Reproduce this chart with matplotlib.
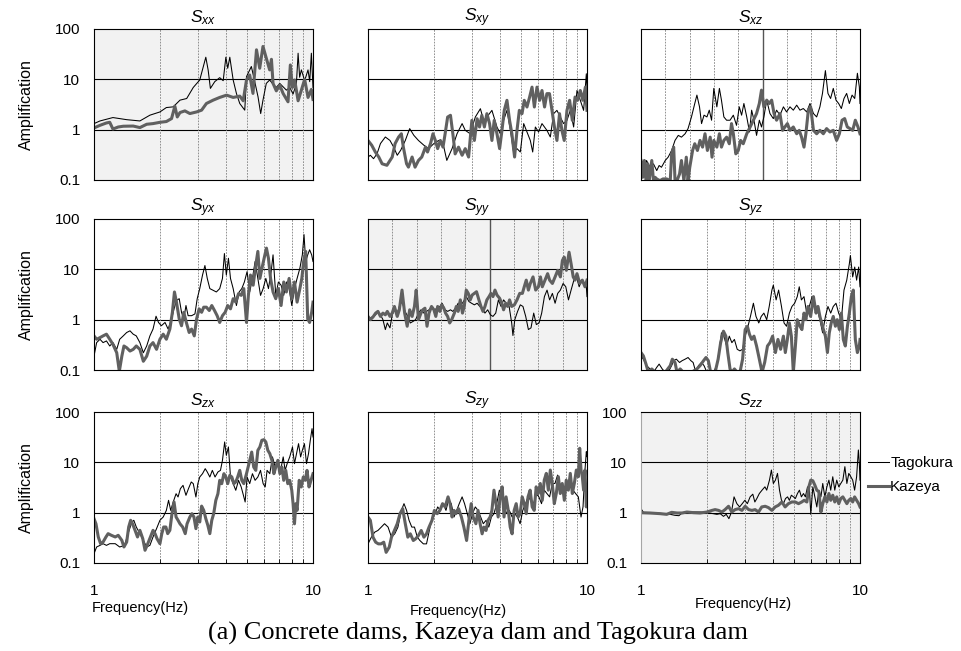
import matplotlib.pyplot as plt
from matplotlib.ticker import NullLocator, FixedLocator, NullFormatter

plt.rcParams['font.family'] = ['Liberation Sans', 'DejaVu Sans']
plt.rcParams['mathtext.fontset'] = 'custom'
plt.rcParams['mathtext.it'] = 'Liberation Sans:italic'
plt.rcParams['mathtext.rm'] = 'Liberation Sans'

# ---------------------------------------------------------------
# data : (frequency Hz, amplification)
# ---------------------------------------------------------------
tago_xx = [(1.0, 1.32), (1.065, 1.49), (1.22, 1.74), (1.41, 1.58), (1.62, 1.49), (1.80, 1.94),
           (2.0, 2.25), (2.14, 2.75), (2.30, 2.84), (2.47, 3.86), (2.65, 4.16), (2.84, 6.9),
           (3.04, 9.7), (3.24, 27.5), (3.32, 15.4), (3.40, 6.6), (3.56, 9.0), (3.75, 10.8),
           (3.89, 9.4), (4.0, 27.5), (4.08, 16.6), (4.17, 27.5), (4.32, 9.7), (4.47, 5.25),
           (4.63, 3.31), (4.88, 2.44), (4.97, 11.3), (5.23, 18.0), (5.42, 9.0), (5.61, 4.5),
           (5.77, 2.09), (5.91, 3.86), (6.12, 8.3), (6.34, 9.7), (6.57, 8.0), (6.80, 6.9),
           (7.05, 8.3), (7.56, 6.1), (7.83, 6.9), (8.11, 5.1), (8.40, 8.3), (8.55, 33.0),
           (8.69, 11.0), (8.85, 15.4), (9.16, 9.4), (9.49, 15.4), (9.66, 9.0), (9.83, 33.0),
           (10.0, 6.9)]
kaze_xx = [(1.0, 1.08), (1.065, 1.22), (1.14, 1.36), (1.18, 1.40), (1.22, 1.03), (1.29, 1.13),
           (1.36, 1.17), (1.51, 1.18), (1.62, 1.10), (1.74, 1.28), (1.86, 1.32), (2.0, 1.40),
           (2.14, 1.45), (2.26, 1.66), (2.34, 2.93), (2.40, 1.79), (2.47, 2.19), (2.60, 2.36),
           (2.74, 2.09), (2.94, 2.25), (3.10, 2.44), (3.26, 3.31), (3.50, 3.86), (3.75, 4.37),
           (4.03, 4.85), (4.32, 4.37), (4.63, 4.64), (4.80, 3.75), (4.97, 9.7), (5.14, 12.2),
           (5.32, 5.25), (5.52, 38.6), (5.71, 16.6), (5.91, 45.0), (6.12, 26.3), (6.34, 15.4),
           (6.46, 25.0), (6.57, 8.3), (6.80, 5.9), (7.05, 7.7), (7.30, 5.25), (7.69, 3.58),
           (7.88, 19.3), (8.05, 6.9), (8.25, 9.7), (8.55, 3.75), (8.85, 6.1), (9.16, 10.0),
           (9.49, 4.37), (9.83, 6.3), (10.0, 3.98)]

tago_xy = [(1.0, 0.286), (1.025, 0.31), (1.06, 0.265), (1.10, 0.333), (1.14, 0.53), (1.20, 0.715),
           (1.26, 0.61), (1.31, 0.45), (1.36, 0.31), (1.41, 0.39), (1.48, 0.61), (1.55, 1.05),
           (1.62, 0.77), (1.70, 0.61), (1.80, 0.49), (1.89, 0.42), (2.0, 0.53), (2.10, 0.61),
           (2.22, 0.45), (2.29, 0.245), (2.42, 0.42), (2.55, 0.83), (2.69, 1.32), (2.78, 0.97),
           (2.93, 0.83), (3.09, 1.78), (3.26, 2.61), (3.37, 1.53), (3.49, 1.78), (3.68, 2.42),
           (3.88, 1.13), (4.02, 0.83), (4.16, 1.53), (4.31, 2.42), (4.47, 0.97), (4.62, 0.36),
           (4.79, 0.42), (4.96, 0.36), (5.14, 1.32), (5.32, 0.90), (5.51, 0.61), (5.65, 0.36),
           (5.81, 1.13), (6.01, 0.90), (6.23, 1.32), (6.56, 0.97), (6.80, 0.715), (7.04, 2.08),
           (7.29, 2.42), (7.55, 1.78), (7.82, 1.32), (8.10, 1.53), (8.39, 2.42), (8.69, 1.13),
           (9.00, 6.0), (9.32, 3.83), (9.65, 2.42), (9.93, 12.9), (10.0, 7.0)]
kaze_xy = [(1.0, 0.61), (1.04, 0.49), (1.08, 0.36), (1.12, 0.286), (1.16, 0.21), (1.22, 0.196),
           (1.29, 0.286), (1.33, 0.53), (1.38, 0.715), (1.42, 0.83), (1.45, 0.45), (1.50, 0.21),
           (1.53, 0.18), (1.59, 0.286), (1.64, 0.18), (1.70, 0.245), (1.76, 0.286), (1.83, 0.45),
           (1.87, 0.36), (1.93, 0.53), (1.98, 0.83), (2.03, 0.61), (2.08, 0.42), (2.14, 0.61),
           (2.20, 0.45), (2.25, 0.83), (2.31, 1.78), (2.38, 1.93), (2.44, 0.83), (2.50, 0.33),
           (2.59, 0.45), (2.69, 0.31), (2.78, 0.42), (2.88, 0.286), (2.98, 1.53), (3.06, 0.61),
           (3.15, 1.65), (3.23, 1.13), (3.31, 1.93), (3.40, 1.13), (3.49, 2.08), (3.59, 1.32),
           (3.68, 0.61), (3.77, 1.53), (3.88, 0.83), (3.99, 0.42), (4.09, 0.97), (4.19, 2.42),
           (4.31, 3.83), (4.43, 1.53), (4.54, 0.83), (4.67, 0.286), (4.79, 0.97), (4.91, 2.42),
           (5.05, 2.08), (5.17, 3.83), (5.32, 2.82), (5.47, 4.45), (5.61, 7.0), (5.75, 2.82),
           (5.91, 7.0), (6.08, 3.83), (6.23, 6.0), (6.40, 2.82), (6.56, 5.2), (6.74, 5.2),
           (6.92, 2.42), (7.10, 1.13), (7.29, 0.61), (7.49, 2.08), (7.68, 0.97), (7.87, 0.61),
           (8.10, 2.42), (8.33, 3.83), (8.57, 1.53), (8.82, 4.45), (9.06, 3.83), (9.32, 6.0),
           (9.57, 3.83), (9.83, 7.0), (10.0, 2.42)]

tago_xz = [(1.0, 0.209), (1.025, 0.132), (1.06, 0.244), (1.10, 0.179), (1.14, 0.209), (1.18, 0.154),
           (1.21, 0.194), (1.24, 0.179), (1.29, 0.244), (1.33, 0.284), (1.38, 0.386), (1.43, 0.612),
           (1.48, 0.77), (1.53, 0.71), (1.59, 0.83), (1.64, 1.05), (1.70, 1.79), (1.76, 3.31),
           (1.80, 4.86), (1.85, 2.84), (1.89, 1.32), (1.94, 1.94), (2.0, 1.79), (2.05, 2.44),
           (2.10, 1.54), (2.15, 6.6), (2.22, 2.84), (2.28, 6.6), (2.33, 3.86), (2.39, 1.79),
           (2.46, 1.54), (2.55, 1.54), (2.64, 1.94), (2.73, 1.22), (2.81, 2.84), (2.88, 1.94),
           (2.95, 3.31), (3.04, 1.79), (3.13, 0.90), (3.20, 2.44), (3.28, 1.54), (3.37, 0.77),
           (3.47, 1.54), (3.55, 1.13), (3.64, 1.79), (3.75, 3.86), (3.88, 2.09), (4.02, 1.66),
           (4.16, 2.44), (4.31, 1.94), (4.47, 2.84), (4.62, 2.25), (4.79, 2.84), (4.96, 2.44),
           (5.14, 3.07), (5.32, 2.44), (5.51, 2.63), (5.71, 2.25), (5.91, 3.31), (6.13, 2.09),
           (6.34, 1.79), (6.56, 2.84), (6.74, 5.25), (6.95, 14.9), (7.14, 5.25), (7.34, 4.16),
           (7.55, 6.6), (7.77, 3.86), (7.99, 3.31), (8.22, 2.63), (8.45, 4.16), (8.69, 5.25),
           (8.94, 3.31), (9.20, 4.86), (9.46, 4.16), (9.73, 13.2), (9.93, 7.1), (10.0, 3.31)]
kaze_xz = [(1.0, 0.244), (1.018, 0.113), (1.036, 0.244), (1.054, 0.097), (1.073, 0.209), (1.09, 0.097),
           (1.12, 0.244), (1.14, 0.097), (1.16, 0.113), (1.18, 0.105), (1.22, 0.097), (1.26, 0.105),
           (1.31, 0.105), (1.36, 0.097), (1.38, 0.331), (1.41, 0.45), (1.43, 0.097), (1.46, 0.097),
           (1.50, 0.132), (1.53, 0.244), (1.57, 0.097), (1.61, 0.284), (1.64, 0.097), (1.67, 0.179),
           (1.72, 0.386), (1.76, 0.525), (1.81, 0.386), (1.86, 0.612), (1.91, 0.45), (1.96, 0.83),
           (2.01, 0.386), (2.07, 0.71), (2.11, 0.284), (2.15, 0.612), (2.22, 0.45), (2.28, 0.83),
           (2.33, 0.45), (2.39, 0.612), (2.46, 0.71), (2.53, 0.525), (2.59, 1.32), (2.64, 0.83),
           (2.71, 0.331), (2.78, 0.386), (2.85, 0.612), (2.93, 0.525), (3.04, 0.83), (3.15, 1.13),
           (3.26, 1.54), (3.37, 2.09), (3.47, 3.31), (3.55, 6.1), (3.64, 2.84), (3.75, 3.86),
           (3.85, 3.31), (3.95, 3.86), (4.05, 2.09), (4.16, 1.54), (4.31, 2.09), (4.43, 0.97),
           (4.54, 1.13), (4.66, 1.32), (4.79, 0.97), (4.96, 1.13), (5.14, 0.83), (5.28, 0.97),
           (5.41, 0.71), (5.55, 0.45), (5.66, 0.83), (5.81, 2.44), (5.95, 2.84), (6.13, 0.97),
           (6.34, 0.83), (6.56, 0.97), (6.80, 0.83), (7.04, 1.05), (7.29, 0.90), (7.55, 0.97),
           (7.82, 0.612), (8.05, 0.83), (8.28, 1.54), (8.51, 1.66), (8.75, 1.13), (9.00, 1.05),
           (9.26, 0.97), (9.52, 1.54), (9.79, 1.13), (10.0, 0.83)]

tago_yx = [(1.0, 0.188), (1.028, 0.35), (1.065, 0.408), (1.10, 0.35), (1.14, 0.378), (1.18, 0.30),
           (1.22, 0.35), (1.27, 0.257), (1.31, 0.408), (1.36, 0.476), (1.41, 0.556), (1.46, 0.60),
           (1.51, 0.515), (1.56, 0.476), (1.62, 0.35), (1.68, 0.22), (1.74, 0.30), (1.80, 0.476),
           (1.86, 0.65), (1.92, 1.17), (1.97, 0.88), (2.03, 0.757), (2.11, 0.88), (2.18, 0.65),
           (2.26, 1.03), (2.32, 1.64), (2.38, 2.41), (2.45, 2.61), (2.51, 1.40), (2.57, 1.03),
           (2.63, 1.91), (2.69, 1.20), (2.79, 1.20), (2.89, 1.30), (2.96, 2.61), (3.04, 4.14),
           (3.13, 7.7), (3.21, 11.9), (3.29, 6.6), (3.38, 4.14), (3.50, 3.83), (3.62, 3.55),
           (3.75, 4.14), (3.86, 6.6), (3.94, 20.6), (4.02, 7.7), (4.11, 16.6), (4.20, 6.6),
           (4.32, 4.14), (4.47, 1.91), (4.60, 3.55), (4.73, 4.14), (4.86, 5.6), (5.00, 9.0),
           (5.14, 3.55), (5.29, 6.6), (5.44, 14.3), (5.60, 6.6), (5.76, 3.04), (5.92, 4.14),
           (6.09, 6.6), (6.26, 4.14), (6.44, 9.0), (6.57, 19.4), (6.76, 3.04), (6.95, 5.6),
           (7.15, 4.84), (7.35, 3.04), (7.56, 5.6), (7.78, 4.14), (8.00, 1.91), (8.23, 4.14),
           (8.46, 6.6), (8.71, 10.5), (8.94, 19.4), (9.10, 49.0), (9.26, 14.3), (9.46, 19.4),
           (9.65, 24.5), (9.86, 19.4), (10.0, 14.3)]
kaze_yx = [(1.0, 0.476), (1.028, 0.408), (1.065, 0.44), (1.10, 0.476), (1.14, 0.515), (1.18, 0.408),
           (1.22, 0.324), (1.27, 0.22), (1.305, 0.094), (1.34, 0.188), (1.37, 0.30), (1.41, 0.277),
           (1.46, 0.238), (1.51, 0.257), (1.56, 0.30), (1.62, 0.257), (1.68, 0.149), (1.74, 0.188),
           (1.80, 0.30), (1.86, 0.35), (1.93, 0.257), (2.0, 0.408), (2.07, 0.515), (2.14, 0.408),
           (2.22, 0.65), (2.28, 1.40), (2.33, 3.55), (2.38, 2.23), (2.45, 1.03), (2.51, 0.757),
           (2.57, 1.40), (2.64, 0.88), (2.72, 0.556), (2.79, 0.65), (2.87, 0.476), (2.94, 1.03),
           (3.02, 1.64), (3.10, 1.40), (3.17, 1.77), (3.26, 1.77), (3.36, 1.52), (3.45, 1.91),
           (3.55, 1.52), (3.65, 1.20), (3.75, 0.88), (3.86, 1.20), (3.97, 1.40), (4.08, 1.91),
           (4.20, 1.64), (4.32, 2.61), (4.44, 2.23), (4.57, 3.29), (4.70, 3.04), (4.83, 4.14),
           (4.97, 0.88), (5.07, 3.04), (5.18, 7.7), (5.33, 4.84), (5.48, 12.2), (5.60, 22.7),
           (5.72, 6.6), (5.89, 12.2), (6.03, 19.4), (6.13, 26.4), (6.26, 16.6), (6.40, 6.6),
           (6.57, 3.55), (6.76, 2.61), (6.95, 4.14), (7.15, 1.91), (7.35, 5.6), (7.56, 3.55),
           (7.78, 6.6), (8.00, 2.61), (8.23, 5.6), (8.46, 2.23), (8.71, 4.14), (8.89, 6.6),
           (9.06, 14.3), (9.26, 22.7), (9.46, 1.03), (9.65, 0.88), (9.86, 1.40), (10.0, 2.23)]

tago_yy = [(1.0, 1.0), (1.025, 1.08), (1.054, 1.16), (1.084, 1.25), (1.11, 1.46), (1.14, 1.25),
           (1.17, 1.0), (1.20, 0.636), (1.225, 0.86), (1.26, 0.687), (1.29, 1.25), (1.32, 1.57),
           (1.36, 1.35), (1.39, 1.83), (1.43, 2.29), (1.475, 1.46), (1.52, 1.16), (1.56, 0.86),
           (1.61, 0.93), (1.65, 1.0), (1.70, 1.35), (1.745, 1.57), (1.80, 1.35), (1.85, 1.46),
           (1.90, 1.57), (1.95, 1.83), (2.01, 1.57), (2.07, 1.69), (2.13, 1.83), (2.18, 2.12),
           (2.25, 1.57), (2.31, 1.46), (2.38, 1.57), (2.44, 1.46), (2.51, 1.69), (2.58, 2.12),
           (2.66, 1.97), (2.73, 2.29), (2.81, 2.87), (2.89, 2.29), (2.97, 2.12), (3.06, 1.97),
           (3.15, 2.12), (3.24, 1.83), (3.33, 1.69), (3.42, 1.35), (3.52, 1.57), (3.62, 1.25),
           (3.72, 1.16), (3.83, 1.35), (3.94, 2.47), (4.05, 1.83), (4.16, 2.47), (4.28, 2.12),
           (4.41, 1.83), (4.53, 0.86), (4.59, 0.485), (4.68, 1.0), (4.82, 1.46), (4.96, 1.97),
           (5.10, 1.83), (5.25, 1.16), (5.40, 0.636), (5.55, 0.687), (5.71, 1.35), (5.87, 0.80),
           (6.04, 0.86), (6.21, 1.35), (6.39, 2.87), (6.57, 3.87), (6.75, 2.47), (6.95, 3.33),
           (7.15, 2.12), (7.35, 3.33), (7.56, 3.87), (7.78, 5.24), (8.00, 4.5), (8.23, 2.47),
           (8.46, 3.87), (8.71, 6.1), (8.95, 7.07), (9.21, 4.5), (9.47, 6.1), (9.72, 5.24),
           (9.93, 4.5), (10.0, 2.87)]
kaze_yy = [(1.0, 1.16), (1.025, 1.0), (1.054, 1.13), (1.084, 1.35), (1.11, 1.46), (1.14, 1.16),
           (1.17, 1.35), (1.20, 1.25), (1.225, 1.46), (1.26, 1.16), (1.29, 1.35), (1.32, 1.83),
           (1.36, 1.16), (1.39, 1.57), (1.43, 3.87), (1.47, 1.35), (1.51, 0.74), (1.55, 1.57),
           (1.59, 1.16), (1.63, 1.83), (1.66, 3.87), (1.70, 1.0), (1.745, 1.35), (1.78, 1.57),
           (1.82, 1.69), (1.86, 0.74), (1.90, 1.35), (1.95, 1.83), (2.0, 1.57), (2.04, 1.16),
           (2.08, 1.83), (2.13, 1.46), (2.17, 1.97), (2.22, 1.69), (2.26, 1.35), (2.31, 1.16),
           (2.36, 0.86), (2.41, 1.0), (2.48, 1.35), (2.53, 1.83), (2.58, 1.46), (2.64, 2.47),
           (2.70, 1.35), (2.75, 1.83), (2.81, 3.87), (2.87, 3.33), (2.93, 2.47), (2.99, 3.09),
           (3.06, 3.33), (3.13, 3.59), (3.21, 2.47), (3.28, 1.83), (3.35, 1.46), (3.42, 1.83),
           (3.49, 2.47), (3.57, 2.87), (3.64, 3.33), (3.72, 2.87), (3.80, 3.87), (3.88, 3.09),
           (3.99, 2.66), (4.08, 2.12), (4.16, 1.57), (4.25, 2.12), (4.34, 1.83), (4.43, 2.47),
           (4.53, 1.83), (4.66, 1.97), (4.79, 2.47), (4.93, 3.33), (5.07, 3.33), (5.17, 4.5),
           (5.28, 6.1), (5.40, 3.87), (5.51, 5.24), (5.67, 7.07), (5.83, 3.87), (6.0, 4.5),
           (6.13, 7.07), (6.25, 4.5), (6.43, 6.1), (6.61, 8.2), (6.75, 6.1), (6.95, 5.24),
           (7.15, 7.07), (7.35, 9.55), (7.56, 7.07), (7.72, 15.0), (7.87, 17.5), (8.05, 9.55),
           (8.28, 21.9), (8.46, 12.9), (8.65, 7.07), (8.82, 6.1), (9.0, 8.2), (9.26, 5.24),
           (9.52, 6.1), (9.79, 4.5), (10.0, 6.1)]

tago_yz = [(1.0, 0.191), (1.025, 0.164), (1.06, 0.122), (1.10, 0.105), (1.14, 0.09), (1.18, 0.113),
           (1.21, 0.131), (1.25, 0.105), (1.29, 0.09), (1.33, 0.09), (1.38, 0.122), (1.41, 0.153),
           (1.45, 0.164), (1.50, 0.141), (1.54, 0.153), (1.59, 0.164), (1.64, 0.177), (1.69, 0.153),
           (1.73, 0.141), (1.78, 0.09), (1.83, 0.122), (1.89, 0.141), (1.94, 0.122), (2.0, 0.09),
           (2.07, 0.09), (2.14, 0.09), (2.22, 0.122), (2.28, 0.258), (2.33, 0.548), (2.39, 0.471),
           (2.46, 0.30), (2.53, 0.471), (2.60, 0.349), (2.67, 0.405), (2.75, 0.258), (2.83, 0.24),
           (2.91, 0.258), (2.99, 0.471), (3.08, 0.74), (3.16, 1.16), (3.26, 2.12), (3.35, 1.16),
           (3.45, 0.86), (3.54, 1.16), (3.64, 1.35), (3.75, 1.0), (3.85, 1.83), (3.96, 3.87),
           (4.02, 4.85), (4.14, 2.47), (4.25, 3.87), (4.38, 1.83), (4.50, 0.86), (4.62, 0.74),
           (4.76, 1.35), (4.89, 1.83), (5.03, 2.12), (5.17, 2.87), (5.28, 4.5), (5.40, 2.47),
           (5.55, 2.87), (5.71, 1.35), (5.87, 1.83), (6.04, 2.87), (6.21, 2.12), (6.39, 1.57),
           (6.56, 1.0), (6.75, 0.548), (6.95, 1.16), (7.14, 1.83), (7.35, 1.35), (7.55, 1.83),
           (7.77, 2.12), (7.99, 1.35), (8.22, 1.0), (8.45, 3.87), (8.70, 6.1), (8.94, 12.9),
           (9.04, 18.8), (9.26, 7.07), (9.46, 11.1), (9.65, 6.1), (9.86, 11.1), (10.0, 4.5)]
kaze_yz = [(1.0, 0.222), (1.025, 0.191), (1.054, 0.131), (1.08, 0.09), (1.12, 0.105), (1.16, 0.09),
           (1.22, 0.09), (1.29, 0.09), (1.36, 0.122), (1.39, 0.164), (1.43, 0.141), (1.46, 0.09),
           (1.51, 0.105), (1.56, 0.09), (1.63, 0.09), (1.70, 0.09), (1.80, 0.105), (1.86, 0.122),
           (1.93, 0.153), (1.98, 0.177), (2.03, 0.153), (2.08, 0.09), (2.18, 0.09), (2.25, 0.164),
           (2.31, 0.349), (2.38, 0.59), (2.44, 0.471), (2.49, 0.222), (2.55, 0.105), (2.60, 0.09),
           (2.67, 0.105), (2.75, 0.09), (2.83, 0.09), (2.91, 0.164), (2.99, 0.636), (3.06, 0.74),
           (3.13, 0.508), (3.20, 0.405), (3.28, 0.471), (3.37, 0.30), (3.47, 0.164), (3.57, 0.09),
           (3.67, 0.141), (3.78, 0.30), (3.88, 0.349), (3.99, 0.471), (4.11, 0.222), (4.22, 0.405),
           (4.34, 0.258), (4.47, 0.471), (4.56, 0.222), (4.66, 0.405), (4.76, 0.86), (4.86, 0.471),
           (4.96, 0.09), (5.07, 0.30), (5.17, 1.0), (5.32, 0.74), (5.43, 0.636), (5.55, 1.35),
           (5.66, 1.0), (5.79, 1.83), (5.95, 1.16), (6.13, 2.87), (6.30, 1.35), (6.43, 1.83),
           (6.56, 1.16), (6.74, 0.74), (6.95, 0.471), (7.10, 0.222), (7.24, 0.548), (7.39, 0.86),
           (7.55, 1.16), (7.72, 0.74), (7.87, 1.0), (8.05, 0.636), (8.22, 1.35), (8.39, 0.405),
           (8.57, 0.30), (8.76, 0.74), (8.94, 1.35), (9.13, 2.87), (9.32, 3.87), (9.52, 0.405),
           (9.73, 0.222), (9.93, 0.30), (10.0, 0.405)]

tago_zx = [(1.0, 0.153), (1.028, 0.208), (1.065, 0.224), (1.10, 0.242), (1.14, 0.224), (1.18, 0.242),
           (1.25, 0.242), (1.31, 0.208), (1.38, 0.224), (1.43, 0.383), (1.49, 0.653), (1.52, 0.705),
           (1.56, 0.519), (1.62, 0.383), (1.68, 0.282), (1.74, 0.208), (1.80, 0.224), (1.86, 0.329),
           (1.93, 0.481), (2.0, 0.705), (2.07, 0.82), (2.14, 1.11), (2.19, 1.76), (2.24, 1.11),
           (2.30, 1.63), (2.37, 2.38), (2.42, 2.05), (2.48, 3.0), (2.55, 3.49), (2.63, 2.21),
           (2.70, 3.0), (2.78, 4.07), (2.84, 3.77), (2.92, 2.05), (2.98, 3.77), (3.04, 5.11),
           (3.13, 5.95), (3.22, 7.48), (3.29, 6.43), (3.38, 5.11), (3.47, 6.93), (3.57, 5.11),
           (3.68, 6.43), (3.78, 6.93), (3.86, 10.96), (3.95, 25.4), (4.02, 13.8), (4.11, 20.2),
           (4.20, 5.11), (4.32, 3.77), (4.44, 2.78), (4.57, 4.39), (4.70, 3.24), (4.79, 2.38),
           (4.90, 1.63), (5.00, 5.11), (5.14, 3.77), (5.29, 5.95), (5.44, 4.39), (5.60, 5.11),
           (5.76, 6.93), (5.92, 3.77), (6.05, 3.24), (6.17, 6.93), (6.35, 5.95), (6.53, 12.8),
           (6.72, 8.07), (6.91, 10.96), (7.11, 6.93), (7.31, 12.8), (7.46, 6.93), (7.62, 9.41),
           (7.83, 12.8), (8.06, 20.2), (8.23, 9.41), (8.41, 14.9), (8.59, 23.5), (8.78, 12.8),
           (8.94, 17.3), (9.14, 23.5), (9.34, 9.41), (9.54, 14.9), (9.72, 27.4), (9.90, 46.7),
           (10.0, 31.9)]
kaze_zx = [(1.0, 0.76), (1.021, 0.60), (1.046, 0.329), (1.072, 0.242), (1.10, 0.261), (1.134, 0.329),
           (1.16, 0.383), (1.20, 0.355), (1.25, 0.329), (1.29, 0.355), (1.34, 0.282), (1.37, 0.208),
           (1.41, 0.261), (1.44, 0.519), (1.47, 0.705), (1.50, 0.60), (1.54, 0.446), (1.58, 0.329),
           (1.62, 0.446), (1.67, 0.304), (1.71, 0.179), (1.76, 0.242), (1.81, 0.329), (1.86, 0.446),
           (1.90, 0.383), (1.94, 0.304), (2.0, 0.242), (2.04, 0.383), (2.08, 0.519), (2.13, 0.519),
           (2.17, 0.383), (2.22, 0.446), (2.27, 0.955), (2.32, 1.63), (2.37, 0.82), (2.42, 0.705),
           (2.47, 0.60), (2.54, 0.519), (2.61, 0.383), (2.66, 0.60), (2.74, 0.82), (2.80, 0.955),
           (2.86, 0.82), (2.92, 0.481), (2.98, 0.82), (3.04, 0.653), (3.10, 1.35), (3.17, 1.11),
           (3.24, 0.76), (3.31, 0.56), (3.38, 0.383), (3.45, 0.705), (3.52, 0.955), (3.60, 1.76),
           (3.68, 2.38), (3.75, 4.39), (3.83, 3.77), (3.92, 5.95), (4.0, 5.11), (4.08, 3.77),
           (4.17, 5.52), (4.26, 5.11), (4.35, 3.77), (4.44, 4.07), (4.53, 5.11), (4.63, 6.93),
           (4.73, 4.39), (4.83, 3.77), (4.97, 5.95), (5.10, 9.41), (5.25, 16.0), (5.36, 8.07),
           (5.48, 6.93), (5.60, 17.3), (5.72, 20.2), (5.84, 27.4), (5.97, 28.2), (6.09, 25.4),
           (6.22, 17.3), (6.35, 14.9), (6.49, 10.96), (6.63, 5.95), (6.76, 8.07), (6.91, 10.96),
           (7.06, 5.95), (7.21, 8.07), (7.35, 4.39), (7.51, 6.93), (7.67, 3.77), (7.83, 4.39),
           (8.0, 2.78), (8.11, 1.51), (8.23, 0.60), (8.35, 1.51), (8.46, 1.11), (8.65, 4.39),
           (8.84, 3.24), (9.03, 5.11), (9.22, 4.39), (9.39, 6.93), (9.59, 3.24), (9.79, 4.39),
           (10.0, 5.95)]

tago_zy = [(1.0, 0.24), (1.036, 0.326), (1.073, 0.41), (1.11, 0.443), (1.15, 0.517), (1.19, 0.603),
           (1.235, 0.517), (1.28, 0.326), (1.325, 0.38), (1.37, 0.517), (1.42, 1.11), (1.46, 1.51),
           (1.50, 1.11), (1.54, 0.703), (1.585, 0.517), (1.63, 0.517), (1.68, 0.326), (1.725, 0.28),
           (1.79, 0.24), (1.85, 0.24), (1.92, 0.517), (1.97, 0.82), (2.03, 0.955), (2.08, 1.30),
           (2.14, 1.11), (2.205, 1.51), (2.27, 1.11), (2.33, 1.76), (2.40, 1.51), (2.47, 0.82),
           (2.54, 1.11), (2.61, 1.51), (2.69, 2.06), (2.76, 1.51), (2.84, 0.955), (2.92, 0.603),
           (3.0, 0.955), (3.09, 1.30), (3.18, 1.11), (3.27, 0.82), (3.36, 0.603), (3.46, 0.703),
           (3.56, 0.517), (3.66, 0.82), (3.76, 0.955), (3.87, 1.51), (3.98, 2.80), (4.08, 2.06),
           (4.18, 1.30), (4.30, 0.955), (4.42, 1.11), (4.55, 0.82), (4.68, 0.955), (4.81, 0.82),
           (4.95, 0.603), (5.09, 1.11), (5.24, 1.51), (5.38, 2.06), (5.54, 1.76), (5.70, 1.51),
           (5.86, 2.40), (6.03, 2.06), (6.20, 1.51), (6.38, 2.80), (6.56, 2.40), (6.75, 2.06),
           (6.94, 3.80), (7.14, 3.80), (7.34, 5.58), (7.50, 3.26), (7.71, 2.40), (7.93, 2.80),
           (8.16, 2.80), (8.39, 3.26), (8.63, 2.80), (8.87, 2.40), (9.13, 2.06), (9.39, 0.82),
           (9.59, 1.30), (9.79, 7.03), (9.93, 16.3), (10.0, 13.0)]
kaze_zy = [(1.0, 0.82), (1.025, 0.703), (1.054, 0.326), (1.084, 0.259), (1.115, 0.24), (1.147, 0.24),
           (1.18, 0.259), (1.21, 0.163), (1.25, 0.206), (1.28, 0.326), (1.32, 0.443), (1.36, 0.603),
           (1.40, 0.955), (1.44, 1.20), (1.48, 0.603), (1.52, 0.326), (1.56, 0.38), (1.61, 0.28),
           (1.65, 0.302), (1.70, 0.352), (1.75, 0.443), (1.80, 0.326), (1.85, 0.38), (1.90, 0.517),
           (1.96, 0.703), (2.01, 1.11), (2.07, 0.955), (2.13, 1.11), (2.19, 1.51), (2.25, 1.30),
           (2.32, 2.06), (2.37, 1.51), (2.42, 0.82), (2.47, 1.11), (2.52, 0.955), (2.59, 1.20),
           (2.67, 0.82), (2.74, 0.517), (2.82, 0.28), (2.90, 0.82), (2.96, 1.51), (3.02, 0.82),
           (3.11, 0.603), (3.18, 1.11), (3.25, 0.603), (3.32, 0.38), (3.38, 0.517), (3.46, 0.443),
           (3.53, 0.703), (3.61, 0.82), (3.68, 1.11), (3.76, 2.80), (3.84, 1.51), (3.93, 0.82),
           (4.01, 2.06), (4.10, 3.26), (4.18, 0.82), (4.27, 2.06), (4.37, 1.11), (4.46, 0.517),
           (4.55, 0.38), (4.65, 1.11), (4.75, 1.51), (4.85, 0.82), (4.95, 0.955), (5.06, 2.06),
           (5.17, 1.51), (5.28, 0.955), (5.38, 2.06), (5.50, 2.80), (5.62, 1.30), (5.74, 1.11),
           (5.86, 3.26), (5.99, 2.40), (6.12, 3.80), (6.25, 1.76), (6.38, 4.43), (6.52, 6.03),
           (6.66, 2.80), (6.80, 7.03), (6.94, 3.80), (7.09, 1.51), (7.24, 2.40), (7.40, 5.17),
           (7.55, 2.40), (7.71, 3.80), (7.88, 1.76), (8.04, 4.43), (8.22, 2.80), (8.39, 6.03),
           (8.57, 2.40), (8.75, 3.80), (8.94, 7.03), (9.13, 5.17), (9.26, 19.05), (9.39, 7.03),
           (9.52, 5.17), (9.65, 2.80), (9.79, 7.03), (9.93, 1.30), (10.0, 1.76)]

tago_zz = [(1.0, 1.2), (1.028, 1.0), (1.10, 0.985), (1.18, 0.985), (1.27, 0.955), (1.36, 0.926),
           (1.43, 0.885), (1.49, 0.871), (1.54, 0.985), (1.59, 1.03), (1.65, 1.0), (1.74, 1.03),
           (1.86, 1.03), (2.0, 1.0), (2.14, 0.955), (2.22, 0.926), (2.30, 0.955), (2.38, 0.845),
           (2.45, 0.926), (2.52, 0.76), (2.59, 1.03), (2.66, 2.06), (2.74, 1.51), (2.82, 1.30),
           (2.90, 1.51), (2.98, 1.76), (3.06, 1.51), (3.15, 2.06), (3.24, 2.33), (3.31, 1.63),
           (3.38, 1.91), (3.47, 2.40), (3.57, 2.80), (3.68, 3.26), (3.75, 2.80), (3.86, 4.43),
           (3.94, 7.03), (4.02, 3.80), (4.11, 4.43), (4.20, 6.03), (4.29, 2.80), (4.38, 1.76),
           (4.47, 1.51), (4.57, 1.91), (4.67, 2.06), (4.76, 1.76), (4.86, 2.22), (4.97, 2.06),
           (5.07, 1.91), (5.18, 2.40), (5.29, 2.80), (5.40, 2.06), (5.52, 2.40), (5.63, 2.06),
           (5.76, 3.26), (5.88, 2.80), (5.96, 0.926), (6.09, 3.26), (6.22, 2.06), (6.35, 1.30),
           (6.49, 2.80), (6.63, 2.06), (6.76, 3.80), (6.91, 2.06), (7.06, 3.26), (7.21, 4.43),
           (7.35, 2.80), (7.51, 5.17), (7.67, 2.80), (7.83, 4.43), (8.0, 3.26), (8.17, 3.80),
           (8.35, 4.43), (8.53, 8.2), (8.71, 3.80), (8.89, 6.03), (9.08, 5.17), (9.26, 4.43),
           (9.45, 2.80), (9.65, 5.17), (9.83, 17.6), (9.93, 9.55), (10.0, 4.43)]
kaze_zz = [(1.0, 1.0), (1.10, 0.985), (1.225, 0.955), (1.31, 0.926), (1.38, 1.015), (1.46, 0.985),
           (1.54, 0.985), (1.62, 1.03), (1.74, 1.0), (1.86, 0.985), (2.0, 1.03), (2.11, 1.11),
           (2.18, 1.15), (2.26, 1.11), (2.34, 1.03), (2.42, 1.15), (2.51, 1.34), (2.60, 1.03),
           (2.69, 1.15), (2.79, 1.20), (2.89, 1.11), (2.99, 1.34), (3.10, 1.15), (3.21, 1.11),
           (3.32, 1.15), (3.44, 1.03), (3.56, 1.30), (3.69, 1.34), (3.82, 1.26), (3.96, 1.11),
           (4.10, 1.30), (4.24, 1.40), (4.40, 1.63), (4.55, 1.30), (4.71, 1.51), (4.88, 1.63),
           (5.06, 1.63), (5.24, 1.51), (5.42, 1.63), (5.56, 1.76), (5.72, 1.63), (5.84, 3.26),
           (5.96, 4.43), (6.09, 4.30), (6.22, 3.52), (6.35, 2.80), (6.49, 2.59), (6.63, 1.03),
           (6.76, 1.51), (6.91, 2.06), (7.06, 1.63), (7.21, 2.40), (7.35, 1.76), (7.51, 2.22),
           (7.67, 1.63), (7.83, 2.06), (8.0, 1.51), (8.17, 1.91), (8.35, 2.06), (8.53, 1.76),
           (8.71, 1.51), (8.89, 1.76), (9.08, 1.91), (9.26, 1.63), (9.45, 2.06), (9.65, 1.76),
           (9.86, 1.51), (10.0, 1.30)]

# panel order (row-major), title subscripts
panel_keys = ['xx', 'xy', 'xz', 'yx', 'yy', 'yz', 'zx', 'zy', 'zz']
tago = [tago_xx, tago_xy, tago_xz, tago_yx, tago_yy, tago_yz, tago_zx, tago_zy, tago_zz]
kaze = [kaze_xx, kaze_xy, kaze_xz, kaze_yx, kaze_yy, kaze_yz, kaze_zx, kaze_zy, kaze_zz]
y_ticks = [0.1, 1, 10, 100]
y_ticklabels = ['0.1', '1', '10', '100']

# ---------------------------------------------------------------
# figure
# ---------------------------------------------------------------
FW, FH = 962, 651
fig = plt.figure(figsize=(FW / 100, FH / 100), dpi=100)

lefts = [94, 368, 641]
tops = [29, 219, 412]
AW, AH = 219, 151

axes = []
for n, key in enumerate(panel_keys):
    i, j = divmod(n, 3)
    ax = fig.add_axes([lefts[j] / FW, 1 - (tops[i] + AH) / FH, AW / FW, AH / FH])
    axes.append(ax)
    ax.set_xscale('log')
    ax.set_yscale('log')
    ax.set_xlim(1, 10)
    ax.set_ylim(0.1, 100)
    if i == j:
        ax.set_facecolor('#f2f2f2')

    # grid
    for v in (1, 10):
        ax.axhline(v, color='black', lw=0.8, zorder=1)
    if key in ('xz', 'yy'):
        # these two panels have evenly spaced vertical lines
        for k in range(1, 9):
            if k == 5:
                ax.axvline(10 ** (k / 9), color='#555555', lw=1.0, zorder=1)
            else:
                ax.axvline(10 ** (k / 9), color='#808080', lw=0.6, ls=(0, (2, 1.5)), zorder=1)
    else:
        for v in range(2, 10):
            ax.axvline(v, color='#808080', lw=0.6, ls=(0, (2, 1.5)), zorder=1)

    f_t, a_t = zip(*tago[n])
    f_k, a_k = zip(*kaze[n])
    lt, = ax.plot(f_t, a_t, color='black', lw=0.75, zorder=3, label='Tagokura')
    lk, = ax.plot(f_k, a_k, color='#606060', lw=2.2, zorder=4, label='Kazeya')

    ax.set_title(r'$S_{%s}$' % key, fontsize=12.5, pad=5)

    # y axis
    ax.yaxis.set_major_locator(FixedLocator(y_ticks))
    ax.yaxis.set_minor_locator(NullLocator())
    if j == 0 or key == 'zz':
        ax.set_yticklabels(y_ticklabels)
    else:
        ax.yaxis.set_major_formatter(NullFormatter())
    ax.tick_params(axis='y', length=0, pad=10, labelsize=11)

    # x axis
    ax.xaxis.set_major_locator(FixedLocator([1, 10]))
    if i == 2:
        ax.set_xticklabels(['1', '10'])
        ax.xaxis.set_minor_locator(FixedLocator(range(2, 10)))
        ax.xaxis.set_minor_formatter(NullFormatter())
        ax.tick_params(axis='x', which='major', length=0, pad=15, labelsize=11)
        ax.tick_params(axis='x', which='minor', direction='in', length=3, width=0.6)
    else:
        ax.xaxis.set_major_formatter(NullFormatter())
        ax.xaxis.set_minor_locator(NullLocator())
        ax.tick_params(axis='x', length=0)

    for s in ax.spines.values():
        s.set_linewidth(0.8)
        s.set_zorder(5)
    if key == 'zz':
        ax.spines['left'].set_color('#a6a6a6')

# row labels
for i in range(3):
    yc = 1 - (tops[i] + AH / 2) / FH
    fig.text(26 / FW, yc, 'Amplification', rotation=90, ha='center', va='center', fontsize=11.5)

# x labels under each bottom panel
fig.text(140 / FW, 1 - 608 / FH, 'Frequency(Hz)', ha='center', va='center', fontsize=10.5)
fig.text(458 / FW, 1 - 611 / FH, 'Frequency(Hz)', ha='center', va='center', fontsize=10.5)
fig.text(743 / FW, 1 - 604 / FH, 'Frequency(Hz)', ha='center', va='center', fontsize=10.5)

# legend right of S_zz
fig.legend([lt, lk], ['Tagokura', 'Kazeya'], loc='center left',
           bbox_to_anchor=(868 / FW, 1 - 475 / FH), frameon=False, fontsize=11,
           handlelength=1.35, handletextpad=0.1, labelspacing=0.65,
           borderpad=0, borderaxespad=0)

fig.text(478 / FW, 1 - 633 / FH, '(a) Concrete dams, Kazeya dam and Tagokura dam',
         ha='center', va='center', fontsize=19, family=['Liberation Serif', 'DejaVu Serif'])

fig.savefig('out.png', dpi=100)
